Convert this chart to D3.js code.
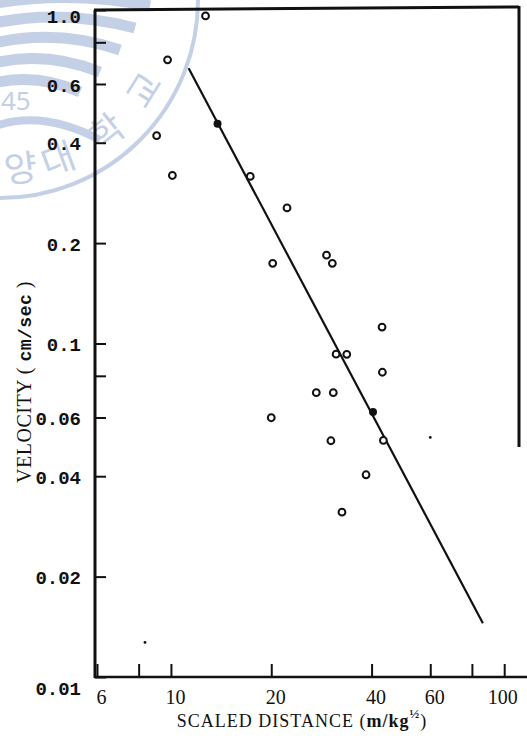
<!DOCTYPE html>
<html>
<head>
<meta charset="utf-8">
<script src="https://cdn.jsdelivr.net/npm/d3@7"></script>
<style>
  html, body { margin: 0; padding: 0; background: #fff; }
  svg { display: block; }
</style>
</head>
<body>
<div id="chart"></div>
<script>
// Measured PPV vs scaled distance (log-log)
const openDist = [12.7, 9.77, 9.06, 10.1, 17.3, 22.3, 20.2, 29.3, 30.5, 43.0, 31.3, 33.7, 43.1, 27.3, 30.7, 20.0, 30.2, 43.4, 38.5, 32.6];
const openVel  = [0.96, 0.709, 0.42, 0.319, 0.317, 0.255, 0.174, 0.184, 0.174, 0.112, 0.0929, 0.0928, 0.082, 0.0712, 0.0712, 0.0599, 0.0511, 0.0512, 0.0404, 0.0312];

const solidDist = [13.8, 40.4];
const solidVel  = [0.456, 0.0623];

// stray dots on the scan
const speckDist = [60.0, 8.36];
const speckVel  = [0.0523, 0.0127];

// fitted line end points
const fitDist = [11.3, 86.3];
const fitVel  = [0.669, 0.0145];

const xTicks = [6, 8, 10, 20, 40, 60, 80, 100];
const xLabels = ['6', '', '10', '20', '40', '60', '', '100'];
const yTicks = [0.01, 0.02, 0.04, 0.06, 0.08, 0.1, 0.2, 0.4, 0.6, 0.8, 1.0];
const yLabels = ['0.01', '0.02', '0.04', '0.06', '', '0.1', '0.2', '0.4', '0.6', '', '1.0'];

const sealChars = ['양', '대', '학', '교'];
const sealAngles = [83, 70, 51, 32];

const W = 527, H = 740;
const svg = d3.select('#chart').append('svg')
    .attr('width', W)
    .attr('height', H);

// faint watermark seal behind the plot (scan artefact)
const wmColor = '#c3d0e6';
const wm = svg.append('g').attr('fill', 'none').attr('stroke', wmColor);
[[-10, 4, 70, -10, 150, 6], [-10, 24, 60, 8, 135, 28], [-10, 44, 55, 28, 120, 50], [-10, 64, 45, 50, 100, 72], [-10, 84, 35, 72, 80, 92]]
    .forEach(p => {
        wm.append('path')
            .attr('d', `M${p[0]},${p[1]} Q${p[2]},${p[3]} ${p[4]},${p[5]}`)
            .attr('stroke-width', 11);
    });
wm.append('path')
    .attr('d', 'M-10,128 Q40,108 100,140')
    .attr('stroke-width', 8);
wm.append('path')
    .attr('d', 'M0,198 A198,198 0 0 0 198,0')
    .attr('stroke-width', 4);
sealChars.forEach((c, i) => {
    const a = sealAngles[i] * Math.PI / 180;
    const r = 170;
    wm.append('text')
        .attr('transform', `translate(${r * Math.cos(a)},${r * Math.sin(a)}) rotate(${sealAngles[i] - 90})`)
        .attr('text-anchor', 'middle').attr('dy', '0.35em')
        .attr('fill', wmColor).attr('stroke', 'none')
        .attr('font-family', 'Noto Sans CJK KR').attr('font-size', 36)
        .text(c);
});
wm.append('text')
    .attr('x', 1).attr('y', 110)
    .attr('fill', wmColor).attr('stroke', 'none')
    .attr('font-family', 'Noto Sans').attr('font-size', 26)
    .text('45');

const x = d3.scaleLog().domain([6, 110]).range([97, 518]);
const y = d3.scaleLog().domain([0.01, 1]).range([677, 10]);

// axes with inward ticks
const xAxis = svg.append('g')
    .attr('transform', `translate(0,${y(0.01)})`)
    .call(d3.axisBottom(x).tickValues(xTicks).tickSize(-13).tickPadding(0).tickFormat((d, i) => xLabels[i]));
xAxis.select('.domain').remove();
xAxis.selectAll('.tick line').attr('stroke', '#111').attr('stroke-width', 2);
xAxis.selectAll('.tick text')
    .attr('y', 12).attr('dy', '0.75em').attr('dx', d => d === 100 ? -2 : 4)
    .attr('font-family', 'Liberation Serif').attr('font-size', 20).attr('fill', '#111');

const yAxis = svg.append('g')
    .attr('transform', `translate(${x(6) - 2},0)`)
    .call(d3.axisLeft(y).tickValues(yTicks).tickSize(-11).tickPadding(0).tickFormat((d, i) => yLabels[i]));
yAxis.select('.domain').remove();
yAxis.selectAll('.tick line').attr('stroke', '#111').attr('stroke-width', 2);
yAxis.selectAll('.tick text')
    .attr('x', -14).attr('dy', '0.38em')
    .attr('font-family', 'Liberation Mono').attr('font-weight', 'bold')
    .attr('font-size', 19).attr('fill', '#111');
yAxis.selectAll('.tick').filter(d => d === 1).select('text').attr('dy', '0.65em');
yAxis.selectAll('.tick').filter(d => d === 0.01).select('text').attr('dy', '0.9em');

// frame
const frame = svg.append('g').attr('stroke', '#111').attr('fill', 'none');
frame.append('line')
    .attr('x1', x(6) - 2).attr('x2', x(6) - 2)
    .attr('y1', y(1)).attr('y2', y(0.01) + 1)
    .attr('stroke-width', 3);
frame.append('line')
    .attr('x1', x(6) - 3).attr('x2', 527)
    .attr('y1', y(0.01)).attr('y2', y(0.01))
    .attr('stroke-width', 2.5);
frame.append('line')
    .attr('x1', x(6) - 3).attr('x2', 519)
    .attr('y1', y(1)).attr('y2', y(1) - 3)
    .attr('stroke-width', 3);
frame.append('line')
    .attr('x1', 519).attr('x2', 519)
    .attr('y1', y(1) - 4).attr('y2', 447)
    .attr('stroke-width', 3);

// fitted line
svg.append('line')
    .attr('x1', x(fitDist[0])).attr('y1', y(fitVel[0]))
    .attr('x2', x(fitDist[1])).attr('y2', y(fitVel[1]))
    .attr('stroke', '#111').attr('stroke-width', 2.2);

// open circles
openDist.forEach((d, i) => {
    svg.append('circle')
        .attr('cx', x(d)).attr('cy', y(openVel[i]))
        .attr('r', 3.4)
        .attr('fill', '#fff').attr('stroke', '#111').attr('stroke-width', 2);
});

// solid dots on the line
solidDist.forEach((d, i) => {
    svg.append('circle')
        .attr('cx', x(d)).attr('cy', y(solidVel[i]))
        .attr('r', 4)
        .attr('fill', '#111');
});

speckDist.forEach((d, i) => {
    svg.append('circle')
        .attr('cx', x(d)).attr('cy', y(speckVel[i]))
        .attr('r', 1.4)
        .attr('fill', '#111');
});

// axis titles
const xt = svg.append('text')
    .attr('x', 302).attr('y', 727)
    .attr('text-anchor', 'middle')
    .attr('font-family', 'Liberation Serif').attr('font-size', 18).attr('fill', '#111')
    .attr('letter-spacing', 1);
xt.append('tspan').text('SCALED DISTANCE (');
xt.append('tspan').attr('font-weight', 'bold').text('m/kg');
xt.append('tspan').attr('font-size', 13).attr('font-weight', 'bold').attr('dy', -9).text('½');
xt.append('tspan').attr('dy', 9).text(')');

const yt = svg.append('text')
    .attr('transform', 'translate(31,382) rotate(-90)')
    .attr('text-anchor', 'middle')
    .attr('font-family', 'Liberation Serif').attr('font-size', 20).attr('fill', '#111')
    .attr('letter-spacing', 0.5);
yt.append('tspan').text('VELOCITY ( ');
yt.append('tspan').attr('font-family', 'Liberation Mono').attr('font-weight', 'bold').attr('font-size', 18).text('cm/sec');
yt.append('tspan').text(' )');
</script>
</body>
</html>
